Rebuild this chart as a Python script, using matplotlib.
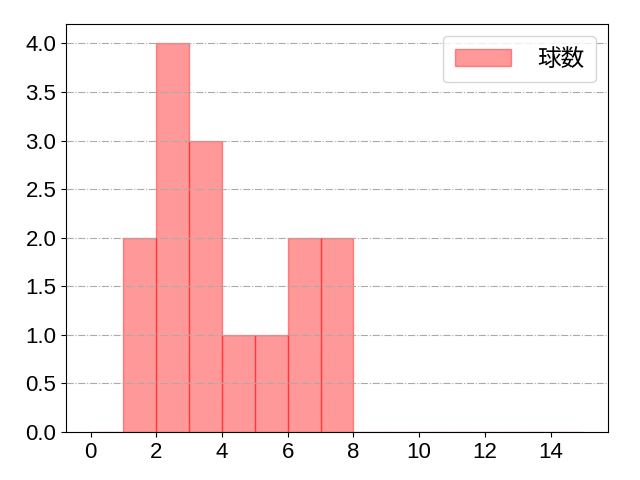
import matplotlib
matplotlib.use("Agg")
import matplotlib.pyplot as plt
import numpy as np

plt.rcParams['font.family'] = ['Noto Sans CJK JP', 'DejaVu Sans']

bin_edges = list(range(0, 16))
counts = [0, 2, 4, 3, 1, 1, 2, 2, 0, 0, 0, 0, 0, 0, 0]
label = "球数"
y_ticks = [0.0, 0.5, 1.0, 1.5, 2.0, 2.5, 3.0, 3.5, 4.0]
x_ticks = [0, 2, 4, 6, 8, 10, 12, 14]

fig, ax = plt.subplots(figsize=(6.4, 4.8), dpi=100)
fig.subplots_adjust(left=66/640, right=608/640, top=1-24/480, bottom=1-432/480)
ax.hist(bin_edges[:-1], bins=bin_edges, weights=counts, color='red', alpha=0.4,
        edgecolor='red', linewidth=1, label=label)
ax.grid(axis='y', linestyle='-.', color='#aaaaaa', linewidth=0.8)
ax.set_axisbelow(False)
ax.set_xticks(x_ticks)
ax.set_yticks(y_ticks)
ax.set_yticklabels([f"{v:.1f}" for v in y_ticks])
ax.tick_params(labelsize=16)
for t in ax.get_xticklabels() + ax.get_yticklabels():
    t.set_fontfamily(['Liberation Sans', 'DejaVu Sans'])
ax.legend(fontsize=17, loc='upper right', handlelength=2.4, handletextpad=1.1,
          borderpad=0.5)
fig.savefig("out.png")
